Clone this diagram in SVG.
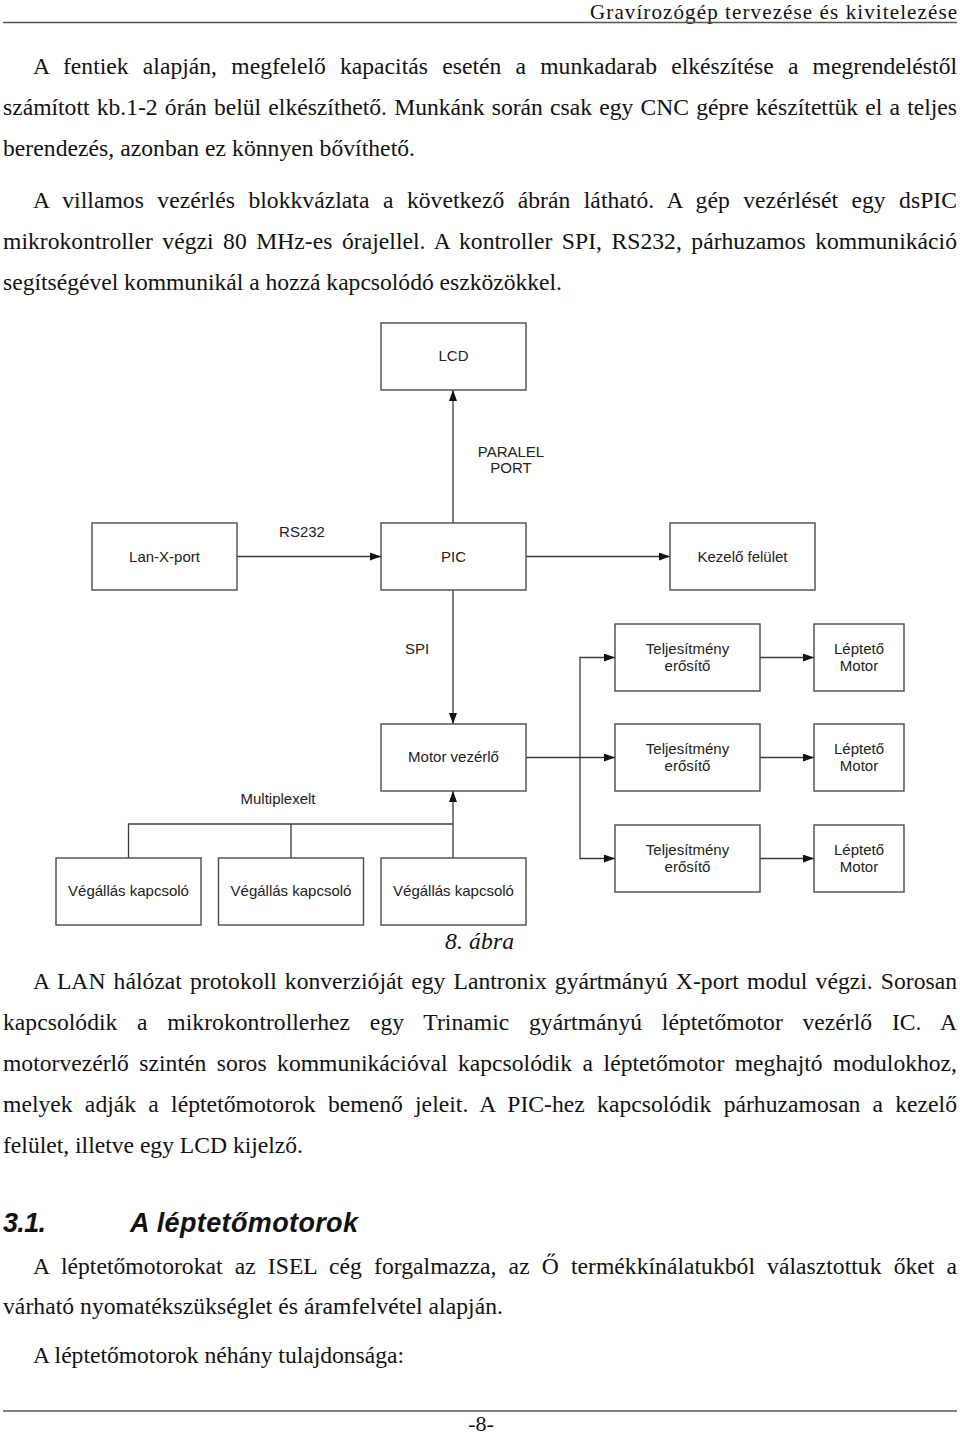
<svg xmlns="http://www.w3.org/2000/svg" width="960" height="1436" viewBox="0 0 960 1436">
<style>
.body{font-family:"Liberation Serif","Times New Roman",serif;font-size:23.6px;fill:#111}
.it{font-style:italic}
.hd{font-family:"Liberation Sans",Arial,sans-serif;font-size:27px;font-weight:bold;font-style:italic;fill:#111}
.box{fill:#fff;stroke:#4a4a4a;stroke-width:1.4}
.lbl{font-family:"Liberation Sans",Arial,sans-serif;font-size:15px;fill:#222;text-anchor:middle}
.con{fill:none;stroke:#3a3a3a;stroke-width:1.3}
.rule{stroke:#555;stroke-width:1.5}
</style>
<defs>
<marker id="ah" markerUnits="userSpaceOnUse" markerWidth="12" markerHeight="9" refX="11" refY="4" orient="auto">
<path d="M0,0 L11,4 L0,8 z" fill="#111"/>
</marker>
</defs>
<rect width="960" height="1436" fill="#fff"/>

<g id="page-text">
<text class="body" x="590" y="19" style="font-size:21px" textLength="367" lengthAdjust="spacing">Gravírozógép tervezése és kivitelezése</text>
<line class="rule" x1="3" y1="22.5" x2="957" y2="22.5"/>
<text class="body" x="33" y="74" word-spacing="8.3" textLength="924" lengthAdjust="spacing">A fentiek alapján, megfelelő kapacitás esetén a munkadarab elkészítése a megrendeléstől</text>
<text class="body" x="3" y="115" word-spacing="1.3" textLength="954" lengthAdjust="spacing">számított kb.1-2 órán belül elkészíthető. Munkánk során csak egy CNC gépre készítettük el a teljes</text>
<text class="body" x="3" y="156" textLength="412" lengthAdjust="spacing">berendezés, azonban ez könnyen bővíthető.</text>
<text class="body" x="33" y="208" word-spacing="7.5" textLength="924" lengthAdjust="spacing">A villamos vezérlés blokkvázlata a következő ábrán látható. A gép vezérlését egy dsPIC</text>
<text class="body" x="3" y="249" word-spacing="3.6" textLength="954" lengthAdjust="spacing">mikrokontroller végzi 80 MHz-es órajellel. A kontroller SPI, RS232, párhuzamos kommunikáció</text>
<text class="body" x="3" y="290" textLength="559" lengthAdjust="spacing">segítségével kommunikál a hozzá kapcsolódó eszközökkel.</text>

<text class="body it" x="445" y="949" textLength="69" lengthAdjust="spacing">8. ábra</text>
<text class="body" x="33" y="989" word-spacing="2.2" textLength="924" lengthAdjust="spacing">A LAN hálózat protokoll konverzióját egy Lantronix gyártmányú X-port modul végzi. Sorosan</text>
<text class="body" x="3" y="1030" word-spacing="13.8" textLength="954" lengthAdjust="spacing">kapcsolódik a mikrokontrollerhez egy Trinamic gyártmányú léptetőmotor vezérlő IC. A</text>
<text class="body" x="3" y="1071" word-spacing="4.6" textLength="954" lengthAdjust="spacing">motorvezérlő szintén soros kommunikációval kapcsolódik a léptetőmotor meghajtó modulokhoz,</text>
<text class="body" x="3" y="1112" word-spacing="6.3" textLength="954" lengthAdjust="spacing">melyek adják a léptetőmotorok bemenő jeleit. A PIC-hez kapcsolódik párhuzamosan a kezelő</text>
<text class="body" x="3" y="1153" textLength="300" lengthAdjust="spacing">felület, illetve egy LCD kijelző.</text>

<text class="hd" x="3" y="1232" textLength="43" lengthAdjust="spacing">3.1.</text>
<text class="hd" x="130" y="1232" textLength="228" lengthAdjust="spacing">A léptetőmotorok</text>
<text class="body" x="33" y="1274" word-spacing="6.2" textLength="924" lengthAdjust="spacing">A léptetőmotorokat az ISEL cég forgalmazza, az Ő termékkínálatukból választottuk őket a</text>
<text class="body" x="3" y="1314" textLength="500" lengthAdjust="spacing">várható nyomatékszükséglet és áramfelvétel alapján.</text>
<text class="body" x="33" y="1363" textLength="371" lengthAdjust="spacing">A léptetőmotorok néhány tulajdonsága:</text>
<line class="rule" x1="3" y1="1411" x2="957" y2="1411"/>
<text class="body" x="481" y="1431" style="font-size:22px" text-anchor="middle">-8-</text>
</g>

<g id="connectors">
<path class="con" d="M453,523 V390" marker-end="url(#ah)"/>
<path class="con" d="M237,556.5 H381" marker-end="url(#ah)"/>
<path class="con" d="M526,556.5 H670" marker-end="url(#ah)"/>
<path class="con" d="M453,590 V724" marker-end="url(#ah)"/>
<path class="con" d="M526,757.5 H615" marker-end="url(#ah)"/>
<path class="con" d="M580,757.5 V657.5 H615" marker-end="url(#ah)"/>
<path class="con" d="M580,757.5 V858.5 H615" marker-end="url(#ah)"/>
<path class="con" d="M760,657.5 H814" marker-end="url(#ah)"/>
<path class="con" d="M760,757.5 H814" marker-end="url(#ah)"/>
<path class="con" d="M760,858.5 H814" marker-end="url(#ah)"/>
<path class="con" d="M128.5,858 V824 H453"/>
<path class="con" d="M291,858 V824"/>
<path class="con" d="M453,858 V791" marker-end="url(#ah)"/>
<text class="lbl" x="511" y="457">PARALEL</text>
<text class="lbl" x="511" y="473">PORT</text>
<text class="lbl" x="302" y="537">RS232</text>
<text class="lbl" x="417" y="654">SPI</text>
<text class="lbl" x="278" y="804">Multiplexelt</text>
</g>

<g id="lcd"><rect class="box" x="381" y="323" width="145" height="67"/><text class="lbl" x="453.5" y="361">LCD</text></g>
<g id="lan-x-port"><rect class="box" x="92" y="523" width="145" height="67"/><text class="lbl" x="164.5" y="562">Lan-X-port</text></g>
<g id="pic"><rect class="box" x="381" y="523" width="145" height="67"/><text class="lbl" x="453.5" y="562">PIC</text></g>
<g id="kezelo-felulet"><rect class="box" x="670" y="523" width="145" height="67"/><text class="lbl" x="742.5" y="562">Kezelő felület</text></g>
<g id="motor-vezerlo"><rect class="box" x="381" y="724" width="145" height="67"/><text class="lbl" x="453.5" y="762">Motor vezérlő</text></g>

<g id="teljesitmeny-1"><rect class="box" x="615" y="624" width="145" height="67"/><text class="lbl" x="687.5" y="654">Teljesítmény</text><text class="lbl" x="687.5" y="671">erősítő</text></g>
<g id="teljesitmeny-2"><rect class="box" x="615" y="724" width="145" height="67"/><text class="lbl" x="687.5" y="754">Teljesítmény</text><text class="lbl" x="687.5" y="771">erősítő</text></g>
<g id="teljesitmeny-3"><rect class="box" x="615" y="825" width="145" height="67"/><text class="lbl" x="687.5" y="855">Teljesítmény</text><text class="lbl" x="687.5" y="872">erősítő</text></g>

<g id="leptetomotor-1"><rect class="box" x="814" y="624" width="90" height="67"/><text class="lbl" x="859" y="654">Léptető</text><text class="lbl" x="859" y="671">Motor</text></g>
<g id="leptetomotor-2"><rect class="box" x="814" y="724" width="90" height="67"/><text class="lbl" x="859" y="754">Léptető</text><text class="lbl" x="859" y="771">Motor</text></g>
<g id="leptetomotor-3"><rect class="box" x="814" y="825" width="90" height="67"/><text class="lbl" x="859" y="855">Léptető</text><text class="lbl" x="859" y="872">Motor</text></g>

<g id="vegallas-1"><rect class="box" x="56" y="858" width="145" height="67"/><text class="lbl" x="128.5" y="896">Végállás kapcsoló</text></g>
<g id="vegallas-2"><rect class="box" x="218.5" y="858" width="145" height="67"/><text class="lbl" x="291" y="896">Végállás kapcsoló</text></g>
<g id="vegallas-3"><rect class="box" x="381" y="858" width="145" height="67"/><text class="lbl" x="453.5" y="896">Végállás kapcsoló</text></g>
</svg>
